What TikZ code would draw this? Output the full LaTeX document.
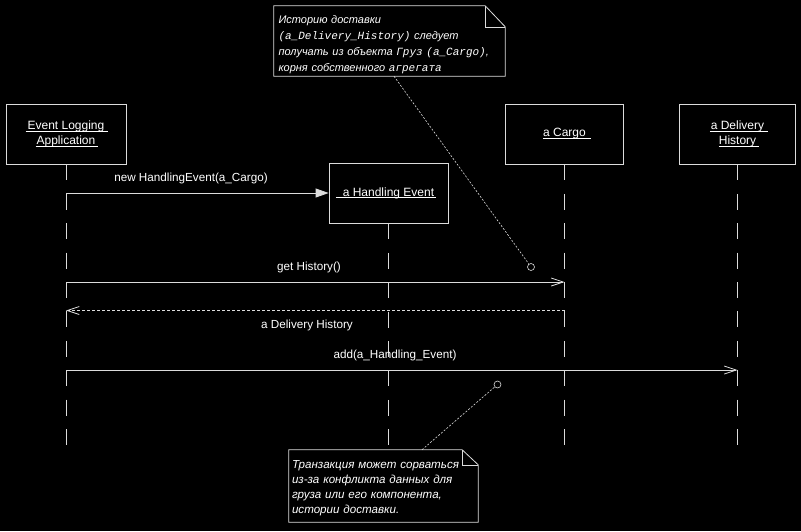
\documentclass[tikz,border=0pt]{standalone}
\usepackage{fontspec}
\setmainfont{Liberation Sans}
\setmonofont{Liberation Mono}
\usetikzlibrary{arrows.meta}

% underlined object name; #1/#2 extend the rule to the left/right
\newcommand\ulx[3]{\setbox0\hbox{#3}\rlap{\kern-#1\rule[-1.8pt]{\dimexpr\wd0+#1+#2\relax}{0.6pt}}\box0}
% code fragment inside a note
\newcommand\cd[1]{{\ttfamily\itshape #1}}

\definecolor{lc}{HTML}{DCDCDC}

\tikzset{
  obj/.style={draw=lc, line width=0.8pt, minimum height=60pt, align=center,
              text=white, inner sep=0pt, font=\fontsize{12}{15}\selectfont},
  life/.style={draw=lc, line width=0.8pt, dash pattern=on 16pt off 13.4pt},
  call/.style={draw=lc, line width=0.8pt, -{Triangle[length=13pt,width=9pt,fill=lc]}},
  msg/.style={draw=lc, line width=0.8pt, -{Straight Barb[length=12pt,width=8pt]}},
  ret/.style={msg, dash pattern=on 3pt off 2pt},
  lbl/.style={text=white, inner sep=0pt},
  notebox/.style={text=white, align=left, anchor=center, inner ysep=0pt},
  notelink/.style={draw=lc, line width=0.6pt, dash pattern=on 2pt off 1.6pt},
  pin/.style={circle, draw=lc, line width=0.6pt, minimum size=7pt, inner sep=0pt},
}

\begin{document}
\begin{tikzpicture}[x=1pt, y=-1pt, font=\fontsize{11.7}{15}\selectfont]
  \fill[black] (0,0) rectangle (801,531);
  \useasboundingbox (0,0) rectangle (801,531);

  % objects
  \node[obj, minimum width=120pt] (ela) at (66,134)
    {\ulx{2pt}{4pt}{Event Logging}\\\ulx{1pt}{3pt}{Application}};
  \node[obj, minimum width=119pt] (he) at (388.5,193)
    {\ulx{7pt}{2pt}{a Handling Event}};
  \node[obj, minimum width=118pt] (cargo) at (564.5,134)
    {\ulx{0pt}{5pt}{a Cargo}};
  \node[obj, minimum width=116pt] (dh) at (737.5,134)
    {\ulx{1pt}{4pt}{a Delivery}\\\ulx{0pt}{3pt}{History}};

  % lifelines
  \coordinate (lend) at (0,445);
  \draw[life] (ela.south) -- (ela.south |- lend);
  \draw[life] (he.south) -- (he.south |- lend);
  \draw[life] (cargo.south) -- (cargo.south |- lend);
  \draw[life] (dh.south) -- (dh.south |- lend);

  % messages
  \coordinate (y2) at (0,282);
  \coordinate (y3) at (0,310.5);
  \coordinate (y4) at (0,370);
  \draw[call] (ela.south |- he.west) -- (he.west);
  \draw[msg] (ela.south |- y2) -- (cargo.south |- y2);
  \draw[ret] (cargo.south |- y3) -- (ela.south |- y3);
  \draw[msg] (ela.south |- y4) -- (dh.south |- y4);

  \node[lbl] (l1) at (191,178) {new HandlingEvent(a\_Cargo)};
  \node[lbl] (l2) at (309,267) {get History()};
  \node[lbl] (l3) at (307,325) {a Delivery History};
  \node[lbl] (l4) at (395,355) {add(a\_Handling\_Event)};

  % note on the delivery history
  \node[notebox, text width=222pt, inner xsep=4.5pt, minimum height=70pt,
        font=\fontsize{11}{16}\selectfont\itshape] (n1) at (389.5,41)
    {\rule{0pt}{16pt}Историю доставки\\
     \cd{(a\_Delivery\_History)} следует\\
     получать из объекта \cd{Груз (a\_Cargo)},\\
     корня собственного \cd{агрегата}};
  \draw[lc, line width=0.8pt]
    (n1.south west) -- (n1.north west) -- ([xshift=-20pt]n1.north east)
    -- ([yshift=-21pt]n1.north east) -- (n1.south east) -- cycle;
  \draw[lc, line width=0.6pt]
    ([xshift=-20pt]n1.north east) -- ([xshift=-20pt,yshift=-21pt]n1.north east)
    -- ([yshift=-21pt]n1.north east);
  \node[pin] (p1) at (531,267) {};
  \draw[notelink] ([xshift=4.5pt]n1.south) -- (p1);

  % note on the transaction
  \node[notebox, text width=183pt, inner xsep=3pt, minimum height=72pt,
        font=\fontsize{11.6}{15}\selectfont\itshape] (n2) at (383.5,486)
    {\rule{0pt}{12.5pt}Транзакция может сорваться\\
     из-за конфликта данных для\\
     груза или его компонента,\\
     истории доставки.};
  \draw[lc, line width=0.8pt]
    (n2.south west) -- (n2.north west) -- ([xshift=-16pt]n2.north east)
    -- ([yshift=-15pt]n2.north east) -- (n2.south east) -- cycle;
  \draw[lc, line width=0.6pt]
    ([xshift=-16pt]n2.north east) -- ([xshift=-16pt,yshift=-15pt]n2.north east)
    -- ([yshift=-15pt]n2.north east);
  \node[pin] (p2) at (497.5,384.5) {};
  \draw[notelink] ([xshift=38.5pt]n2.north) -- (p2);
\end{tikzpicture}
\end{document}
